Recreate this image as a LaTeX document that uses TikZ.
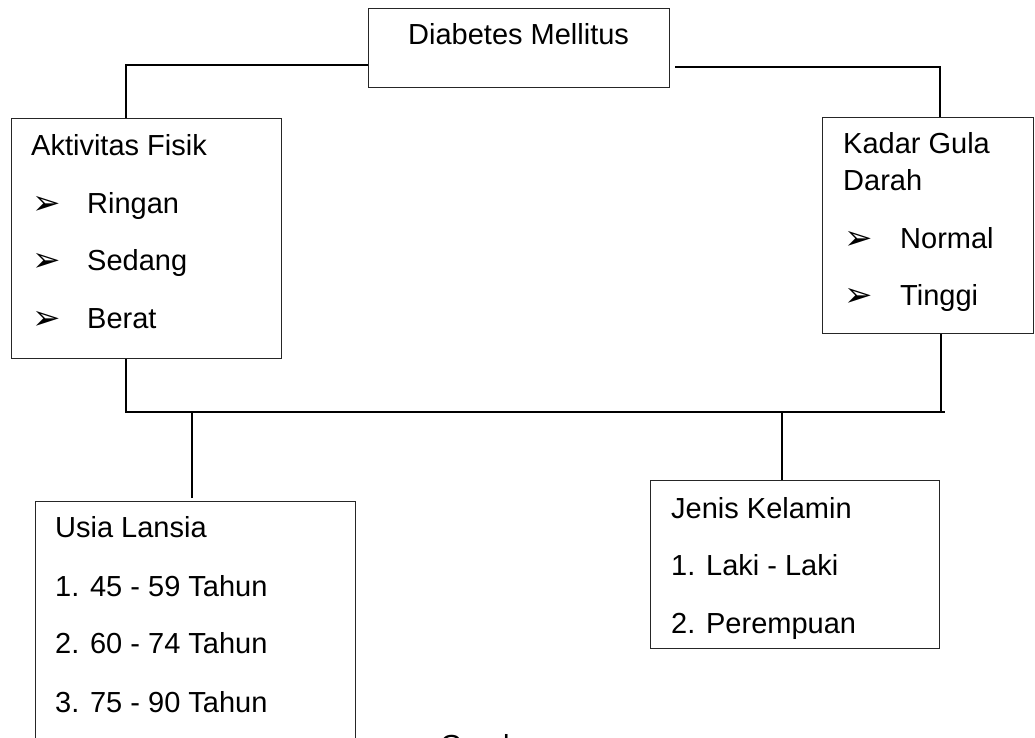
\documentclass[tikz,border=0pt]{standalone}
\usepackage{fontspec}
\setmainfont{Liberation Sans}
\newfontfamily\dejavu{DejaVu Sans}
\usetikzlibrary{calc}
\tikzset{
  boxnode/.style={draw=black!85, line width=1pt, anchor=north west, inner sep=0pt},
  txt/.style={anchor=base west, inner sep=0pt, font=\fontsize{29}{35}\selectfont},
  bul/.style={anchor=base west, inner sep=0pt, font=\dejavu\fontsize{34}{40}\selectfont},
  conn/.style={line width=1.6pt, black}
}
\begin{document}
\begin{tikzpicture}[x=1pt,y=-1pt]
\useasboundingbox (0,0) rectangle (1035,738);
% boxes
\node[boxnode, minimum width=301, minimum height=79] (dm) at (368,8) {};
\node[boxnode, minimum width=270, minimum height=240] (akt) at (11,118) {};
\node[boxnode, minimum width=211, minimum height=216] (kgd) at (822,117) {};
\node[boxnode, minimum width=320, minimum height=270] (usia) at (35,501) {};
\node[boxnode, minimum width=289, minimum height=168] (jk) at (650,480) {};
% texts
\node[txt] (t0) at (408,45) {Diabetes Mellitus};
\node[txt] (t1) at (31,156) {Aktivitas Fisik};
\node[bul] (b1) at (32,214) {➢};
\node[txt] (t2) at (87,213) {Ringan};
\node[bul] (b2) at (32,271) {➢};
\node[txt] (t3) at (87,270) {Sedang};
\node[bul] (b3) at (32,329) {➢};
\node[txt] (t4) at (87,328) {Berat};
\node[txt] (t5) at (843,154) {Kadar Gula};
\node[txt] (t6) at (843,190) {Darah};
\node[bul] (b4) at (844,249) {➢};
\node[txt] (t7) at (900,248) {Normal};
\node[bul] (b5) at (844,306) {➢};
\node[txt] (t8) at (900,305) {Tinggi};
\node[txt] (t9) at (55,537) {Usia Lansia};
\node[txt] (t10) at (55,596) {1. 45 - 59 Tahun};
\node[txt] (t11) at (55,653) {2. 60 - 74 Tahun};
\node[txt] (t12) at (55,712) {3. 75 - 90 Tahun};
\node[txt] (t13) at (671,518) {Jenis Kelamin};
\node[txt] (t14) at (671,575) {1. Laki - Laki};
\node[txt] (t15) at (671,633) {2. Perempuan};
\node[txt] (cap) at (440,755) {Gambar};
% connector coordinates
\coordinate (dmL) at ($(dm.north west)+(0,57)$);
\coordinate (dmR) at ($(dm.north east)+(5,59)$);
\coordinate (aktT) at ($(akt.north west)+(115,0)$);
\coordinate (aktB) at ($(akt.south west)+(115,0)$);
\coordinate (kgdT) at ($(kgd.north west)+(118,0)$);
\coordinate (kgdB) at ($(kgd.south west)+(119,0)$);
\coordinate (busL) at (126,412);
\coordinate (busR) at (945,412);
\coordinate (usiaT) at ($(usia.north west)+(157,-3)$);
\coordinate (jkT) at ($(jk.north west)+(132,0)$);
% connectors
\draw[conn] (dmL) -| (aktT);
\draw[conn] (dmR) -| (kgdT);
\draw[conn] (aktB) |- (busR);
\draw[conn] (kgdB) -- (kgdB |- busR);
\draw[conn, line width=1.2pt] (usiaT) -- (usiaT |- busL);
\draw[conn, line width=1.2pt] (jkT) -- (jkT |- busL);
\end{tikzpicture}
\end{document}
